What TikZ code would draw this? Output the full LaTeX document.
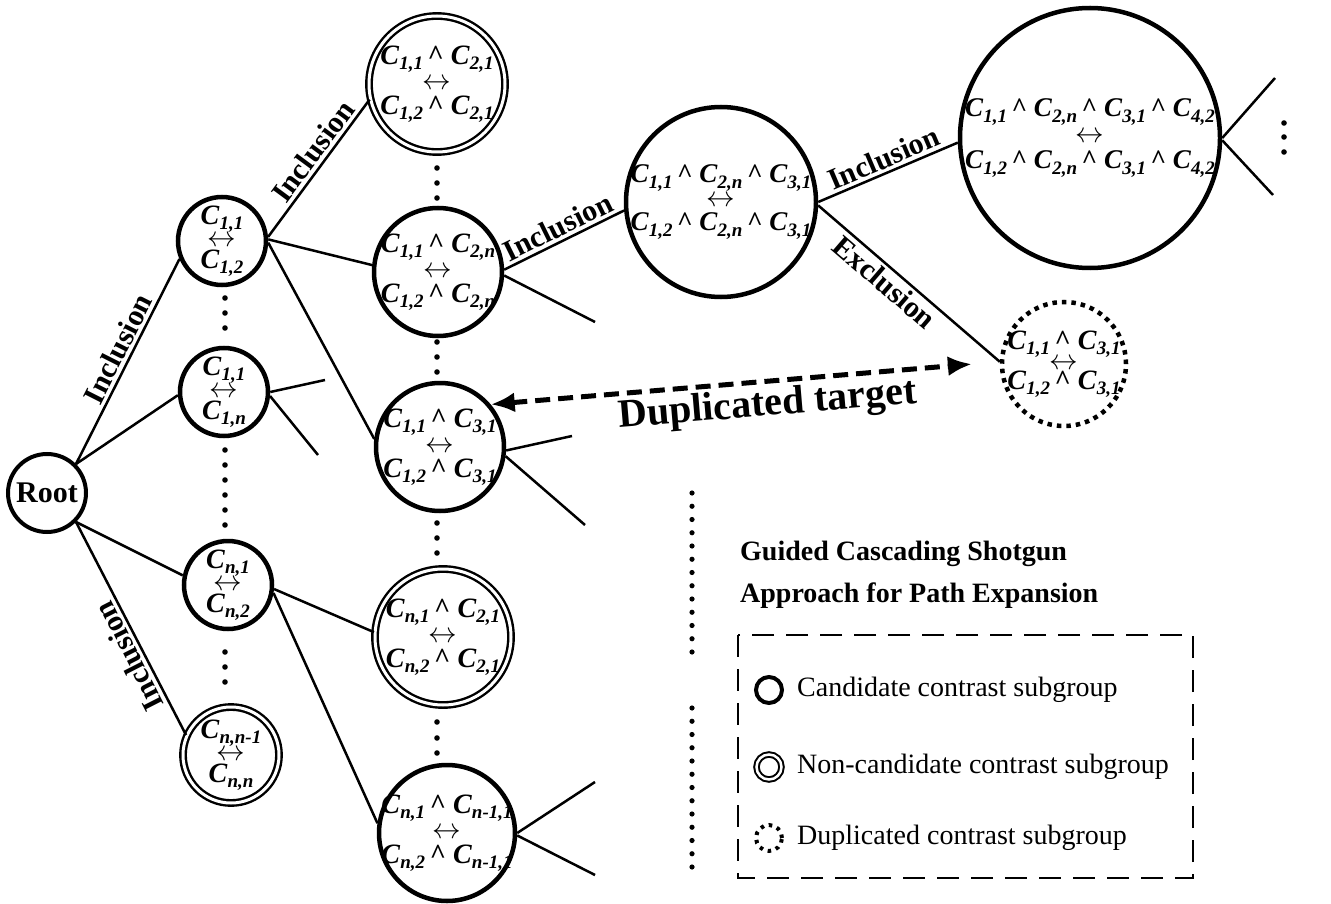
\documentclass[tikz,border=0pt]{standalone}
\usepackage{fontspec}
\setmainfont{Liberation Serif}
\usetikzlibrary{arrows.meta}

% contrast-subgroup term C with a lowered italic index
\newcommand\Cc[1]{\textit{C}\raisebox{-5.5pt}{\fontsize{19}{19}\selectfont\textit{#1}}}
% conjunction caret and the pairing arrow
\newcommand\cj{\,\textasciicircum\ }
\newcommand\biarrow{\scalebox{1.15}{$\leftrightarrow$}}

\tikzset{
  edge/.style={line width=2.5pt},
  cand/.style={circle, draw, line width=4.5pt, inner sep=0pt},
  noncand/.style={circle, draw, double, double distance=3pt, line width=2.4pt, inner sep=0pt},
  dupl/.style={circle, draw, line width=4.5pt, dash pattern=on 4.5pt off 5pt, inner sep=0pt},
  ctext/.style={font=\fontsize{28}{25}\selectfont\bfseries, align=center, inner sep=0pt},
  ctextsm/.style={font=\fontsize{28}{22}\selectfont\bfseries, align=center, inner sep=0pt},
  lab/.style={font=\fontsize{30}{30}\selectfont\bfseries, inner sep=3pt},
  dupline/.style={line width=5pt, dash pattern=on 15pt off 8pt, {Latex[length=24pt,width=20pt]}-{Latex[length=24pt,width=20pt]}},
  keytext/.style={font=\fontsize{28}{28}\selectfont, anchor=west, inner sep=0pt},
}

\begin{document}
\begin{tikzpicture}[x=1pt,y=1pt]
\useasboundingbox (0,0) rectangle (1331,-904);

% ---- root and first level ----
\node[cand, line width=4pt, minimum size=78pt, font=\fontsize{30}{30}\selectfont\bfseries] (root) at (47,-493) {Root};

\node[cand, minimum size=88pt, label={[ctextsm]center:{\Cc{1,1}\\\biarrow\\\Cc{1,2}}}] (n11) at (222,-241) {};
\node[cand, minimum size=88pt, label={[ctextsm]center:{\Cc{1,1}\\\biarrow\\\Cc{1,n}}}] (n1n) at (224,-392) {};
\node[cand, minimum size=88pt, label={[ctextsm]center:{\Cc{n,1}\\\biarrow\\\Cc{n,2}}}] (nn1) at (228,-585) {};
\node[noncand, minimum size=96pt, label={[ctextsm]center:{\Cc{n,n-1}\\\biarrow\\\Cc{n,n}}}] (nnn) at (231,-755) {};

% ---- second level ----
\node[noncand, minimum size=136pt, label={[ctext]center:{\Cc{1,1}\cj\Cc{2,1}\\\biarrow\\\Cc{1,2}\cj\Cc{2,1}}}] (A) at (437,-84) {};
\node[cand, minimum size=128pt, label={[ctext]center:{\Cc{1,1}\cj\Cc{2,n}\\\biarrow\\\Cc{1,2}\cj\Cc{2,n}}}] (B) at (438,-272) {};
\node[cand, minimum size=128pt, label={[ctext]center:{\Cc{1,1}\cj\Cc{3,1}\\\biarrow\\\Cc{1,2}\cj\Cc{3,1}}}] (C) at (440,-447) {};
\node[noncand, minimum size=136pt, label={[ctext]center:{\Cc{n,1}\cj\Cc{2,1}\\\biarrow\\\Cc{n,2}\cj\Cc{2,1}}}] (D) at (443,-637) {};
\node[cand, minimum size=136pt, label={[ctext]center:{\Cc{n,1}\cj\Cc{n-1,1}\\\biarrow\\\Cc{n,2}\cj\Cc{n-1,1}}}] (E) at (447,-833) {};

% ---- deeper levels ----
\node[cand, minimum size=190pt, label={[ctext, font=\fontsize{27}{24}\selectfont\bfseries]center:{\Cc{1,1}\cj\Cc{2,n}\cj\Cc{3,1}\\\biarrow\\\Cc{1,2}\cj\Cc{2,n}\cj\Cc{3,1}}}] (F) at (721,-202) {};
\node[cand, minimum size=260pt, label={[ctext, font=\fontsize{27}{26}\selectfont\bfseries]center:{\Cc{1,1}\cj\Cc{2,n}\cj\Cc{3,1}\cj\Cc{4,2}\\\biarrow\\\Cc{1,2}\cj\Cc{2,n}\cj\Cc{3,1}\cj\Cc{4,2}}}] (G) at (1090,-138) {};
\node[dupl, minimum size=124pt, label={[ctext, font=\fontsize{28}{20}\selectfont\bfseries]center:{\Cc{1,1}\cj\Cc{3,1}\\\biarrow\\\Cc{1,2}\cj\Cc{3,1}}}] (H) at (1064,-364) {};

% free ends of the open branches
\coordinate (s1) at (325,-380);
\coordinate (s2) at (318,-455);
\coordinate (s3) at (595,-322);
\coordinate (s4) at (572,-436);
\coordinate (s5) at (585,-525);
\coordinate (s6) at (595,-782);
\coordinate (s7) at (595,-875);
\coordinate (s8) at (1275,-78);
\coordinate (s9) at (1273,-195);

% ---- connectors ----
\draw[edge] (root.45) -- node[lab, sloped, above, pos=0.53] {Inclusion} (n11.203);
\draw[edge] (root.45) -- (n1n.184);
\draw[edge] (root.-45) -- (nn1.168);
% this label runs up the line, rotated past the vertical
\draw[edge] (nnn.156) -- node[lab, pos=0.4, rotate=117, anchor=south] {Inclusion} (root.-45);

\draw[edge] (n11.5) -- node[lab, sloped, above, pos=0.56] {Inclusion} (A.193);
\draw[edge] (n11.2) -- (B.174);
\draw[edge] (n11.-2) -- (C.173);
\draw[edge] (n1n.0) -- (s1);
\draw[edge] (n1n.-5) -- (s2);
\draw[edge] (nn1.-5) -- (D.176);
\draw[edge] (nn1.-10) -- (E.172);

\draw[edge] (B.2) -- node[lab, sloped, above, pos=0.5] {Inclusion} (F.185);
\draw[edge] (B.-3) -- (s3);
\draw[edge] (C.-3) -- (s4);
\draw[edge] (C.-8) -- (s5);
\draw[edge] (E.0) -- (s6);
\draw[edge] (E.-2) -- (s7);

\draw[edge] (F.0) -- node[lab, sloped, above, pos=0.51] {Inclusion} (G.182);
\draw[edge] (F.-2) -- node[lab, sloped, below, pos=0.42] {Exclusion} (H.178);
\draw[edge] (G.0) -- (s8);
\draw[edge] (G.-1) -- (s9);

\draw[dupline, shorten >=28pt] (C.40) -- node[sloped, below, pos=0.54, font=\fontsize{40}{40}\selectfont\bfseries, inner sep=4pt] {Duplicated target} (H.178);

% ---- ellipsis dots ----
\foreach \y in {298,313,328, 450,465,480,495,510,525, 652,667,682}
  \fill (225,-\y) circle (2.8pt);
\foreach \y in {168,183,198, 342,357,372, 523,538,553, 722,738,753}
  \fill (437,-\y) circle (2.8pt);
\foreach \y in {123,137,152}
  \fill (1284,-\y) circle (2.8pt);
\foreach \i in {0,...,12} {
  \fill (692,-493-13.25*\i) circle (2.6pt);
  \fill (692,-708-13.25*\i) circle (2.6pt);
}

% ---- legend ----
\node[anchor=north west, align=left, inner sep=0pt, font=\fontsize{28}{42}\selectfont\bfseries] (title) at (740,-541) {Guided Cascading Shotgun\\Approach for Path Expansion};
\draw[line width=2.5pt, dash pattern=on 22pt off 12pt] (738,-635) rectangle (1193,-878);
\node[cand, line width=4pt, minimum size=26pt] (k1) at (769,-690) {};
\node[noncand, line width=2pt, double distance=2.5pt, minimum size=25pt] (k2) at (769,-767) {};
\node[dupl, line width=4pt, dash pattern=on 3.5pt off 5pt, minimum size=26pt] (k3) at (769,-838) {};
\node[keytext] (t1) at (797,-690) {Candidate contrast subgroup};
\node[keytext] (t2) at (797,-767) {Non-candidate contrast subgroup};
\node[keytext] (t3) at (797,-838) {Duplicated contrast subgroup};
\end{tikzpicture}
\end{document}
